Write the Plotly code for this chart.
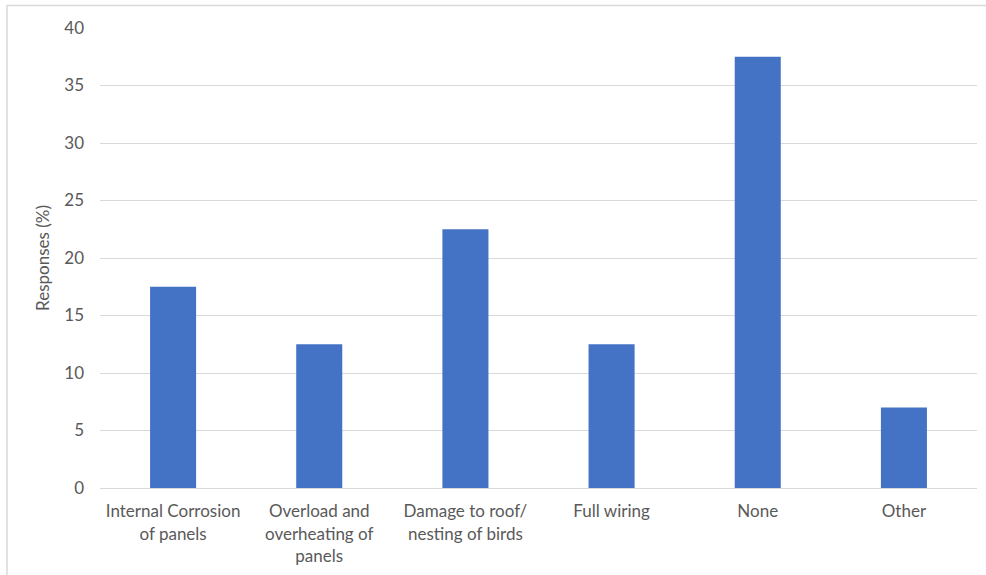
import plotly.graph_objects as go

categories = [
    "Internal Corrosion<br>of panels",
    "Overload and<br>overheating of<br>panels",
    "Damage to roof/<br>nesting of birds",
    "Full wiring",
    "None",
    "Other",
]
responses = [17.5, 12.5, 22.5, 12.5, 37.5, 7]
y_ticks = [0, 5, 10, 15, 20, 25, 30, 35, 40]

text_color = "#595959"
grid_color = "#d9d9d9"

fig = go.Figure(
    go.Bar(
        x=categories,
        y=responses,
        marker=dict(color="#4472C4", line=dict(width=0)),
        hoverinfo="x+y",
    )
)

fig.update_layout(
    width=986,
    height=575,
    margin=dict(l=100, r=9, t=28, b=87),
    paper_bgcolor="white",
    plot_bgcolor="white",
    bargap=0.685,
    showlegend=False,
    font=dict(family="Lato, Open Sans, sans-serif", size=17, color=text_color),
    xaxis=dict(
        showgrid=False,
        showline=True,
        linecolor=grid_color,
        linewidth=1,
        ticks="",
        ticklabelstandoff=8,
        tickfont=dict(size=17, color=text_color),
    ),
    yaxis=dict(
        range=[0, 40],
        tickvals=y_ticks,
        showgrid=True,
        gridcolor=grid_color,
        gridwidth=1,
        zeroline=False,
        showline=False,
        ticks="",
        ticklabelstandoff=15,
        tickfont=dict(size=17, color=text_color),
        title=dict(text="Responses (%)", font=dict(size=17, color=text_color), standoff=10),
    ),
    shapes=[
        # chart-area frame
        dict(
            type="rect",
            xref="paper",
            yref="paper",
            x0=(7 - 100) / 877,
            x1=1.2,
            y0=-0.4,
            y1=(488 - 5.5) / 460,
            line=dict(color="#d9d9d9", width=1.5),
            fillcolor="rgba(0,0,0,0)",
            layer="below",
        )
    ],
)

fig.write_html("out.html")
